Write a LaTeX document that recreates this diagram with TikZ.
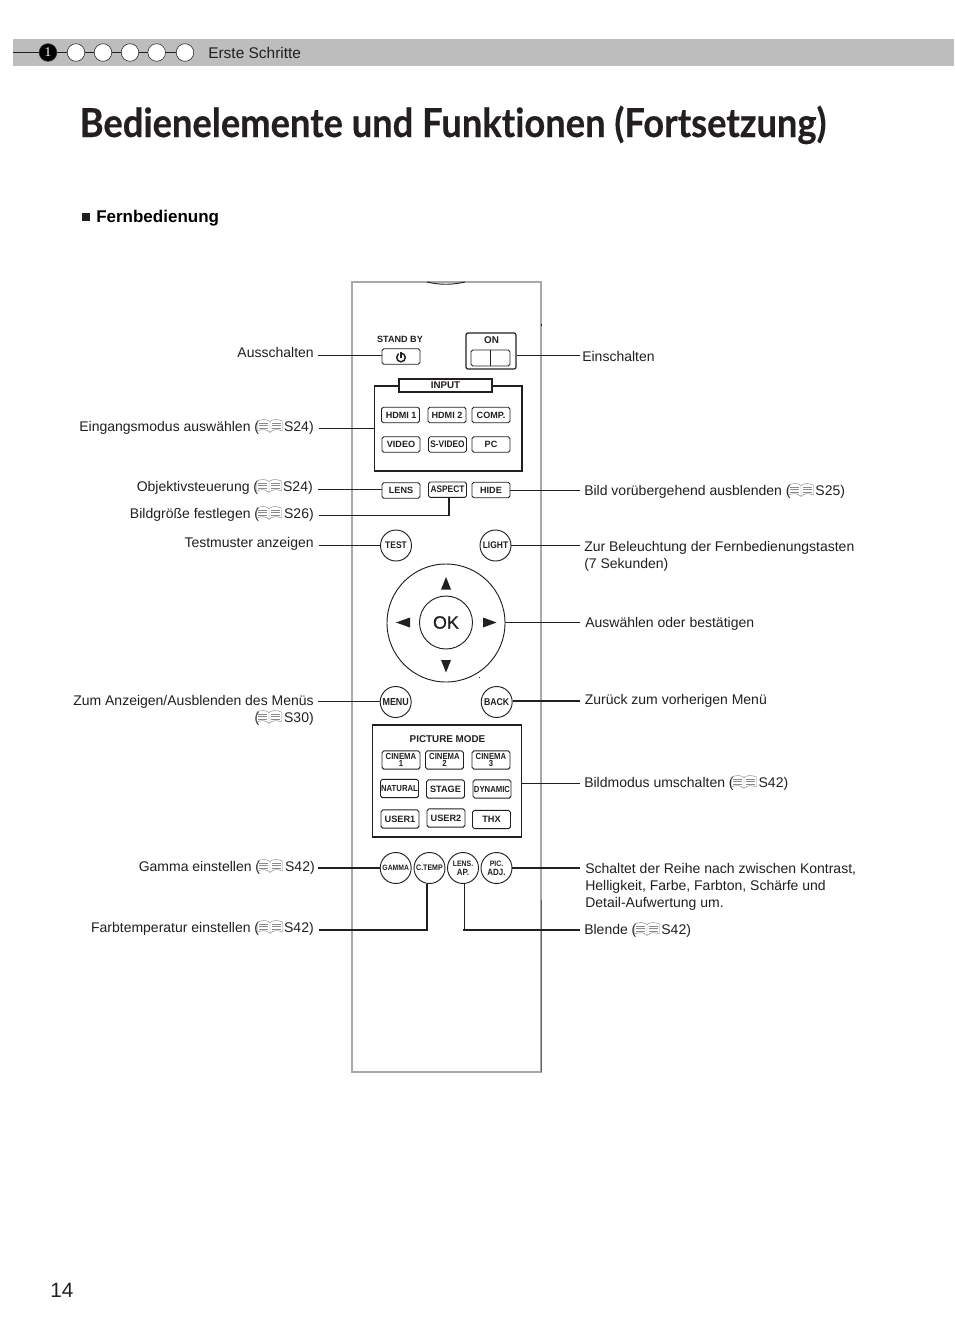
\documentclass[tikz,border=0pt]{standalone}
\usepackage{fontspec}
\setmainfont{Liberation Sans}
\newfontfamily\titlefont[FakeStretch=0.907,FakeBold=0.35,Ligatures=CommonOff]{Lato}
\newfontfamily\narfont[FakeStretch=0.88]{Liberation Sans}
\newfontfamily\okfont[FakeBold=0.6]{Liberation Sans}
\newfontfamily\numfont{Liberation Serif}
\definecolor{ink}{HTML}{231F20}
\definecolor{barcol}{HTML}{BDBDBD}
\definecolor{shell}{HTML}{A8A8A8}
\definecolor{bookcol}{HTML}{8A8A8A}
\tikzset{
  lbl/.style={anchor=base east,inner sep=0pt,text=ink,font=\fontsize{10.5}{12.75}\selectfont,align=right},
  rlbl/.style={anchor=base west,inner sep=0pt,text=ink,font=\fontsize{10.5}{12.75}\selectfont,align=left},
  btn/.style={draw=ink,line width=0.7pt,rounded corners=1.3pt,fill=white,minimum width=28.5pt,minimum height=11.6pt,inner sep=0pt,text=ink,font=\fontsize{6.8}{6.8}\selectfont\bfseries},
  nbtn/.style={btn,font=\fontsize{7.1}{6.8}\selectfont\narfont\bfseries},
  tallbtn/.style={btn,minimum height=13.6pt,align=center,font=\fontsize{6.6}{5.6}\selectfont\narfont\bfseries},
  widebtn/.style={tallbtn,font=\fontsize{6.9}{6.9}\selectfont\bfseries},
  rbtn/.style={draw=ink,line width=0.7pt,circle,fill=white,minimum size=23.25pt,inner sep=0pt,align=center,text=ink,font=\fontsize{6.8}{6.8}\selectfont\narfont\bfseries},
  frame/.style={draw=ink,line width=1pt,fill=none},
  thin/.style={draw=ink,line width=0.65pt},
  thick/.style={draw=ink,line width=1.3pt},
  dot/.style={circle,draw=ink,line width=0.4pt,fill=white,minimum size=13.2pt,inner sep=0pt},
  bookicon/.pic={
    \draw[bookcol,line width=0.35pt,line join=round]
      (-12.5,-5) .. controls (-8,-7) and (-3,-7) .. (0,-4.5) .. controls (3,-7) and (8,-7) .. (12.5,-5)
      -- (12.5,5) .. controls (8,3) and (3,3) .. (0,6.5) .. controls (-3,3) and (-8,3) .. (-12.5,5) -- cycle
      (0,-4.5) -- (0,6.5);
    \draw[bookcol,line width=0.3pt]
      (-11,-3) -- (-2,-3) (-11,-0.5) -- (-2,-0.5) (-11,2) -- (-2,2)
      (2,-3) -- (11,-3) (2,-0.5) -- (11,-0.5) (2,2) -- (11,2);
  }
}
\newcommand{\gapbook}{\hspace*{18.75pt}}
\begin{document}
\begin{tikzpicture}[x=0.75pt,y=-0.75pt]
\useasboundingbox (0,0) rectangle (954,1339);
\fill[white] (0,0) rectangle (954,1339);
% header
\fill[barcol] (13,39) rectangle (954,66);
\coordinate (bar0) at (13,52.5);
\node[dot,fill=black,text=white,font=\fontsize{10}{10}\selectfont\numfont] (d1) at (48,52.5) {1};
\node[dot] (d2) at (76,52.5) {};
\node[dot] (d3) at (103,52.5) {};
\node[dot] (d4) at (130,52.5) {};
\node[dot] (d5) at (156.7,52.5) {};
\node[dot] (d6) at (185,52.5) {};
\draw[thin] (bar0) -- (d1) (d1) -- (d2) (d2) -- (d3) (d3) -- (d4) (d4) -- (d5) (d5) -- (d6);
\node[anchor=base west,inner sep=0pt,text=ink,font=\fontsize{11.6}{14}\selectfont] (head) at (208,58) {Erste Schritte};
\node[anchor=base west,inner sep=0pt,text=ink,font=\fontsize{30}{36}\selectfont\titlefont\bfseries] (title) at (79.5,137) {Bedienelemente und Funktionen (Fortsetzung)};
\node[anchor=base west,inner sep=0pt,text=black,font=\fontsize{12.75}{15}\selectfont\bfseries] (sect) at (96,222) {Fernbedienung};
\fill[ink] (81.5,212.5) rectangle (90,221);
\node[anchor=base west,inner sep=0pt,text=ink,font=\fontsize{15.5}{18}\selectfont] (pg) at (50,1297) {14};
% remote
\draw[shell,line width=1pt] (352,282) rectangle (541,1072);
\draw[ink,line width=0.7pt] (427,282) .. controls (440,285) and (452,285) .. (465,282);
\draw[ink!70,line width=0.3pt] (541.4,900) -- (541.4,1072);
\fill[ink] (540.6,324) rectangle (541.6,326);
\fill[ink] (479,676.6) rectangle (480,677.4);
% top
\node[anchor=center,inner sep=0pt,text=ink,font=\fontsize{6.8}{7}\selectfont\bfseries] (sbtxt) at (400,339) {STAND BY};
\node[btn] (standby) at (401,356.5) {};
\draw[ink,line width=1.1pt] (standby.center) ++(0,1) circle[radius=4.3];
\draw[white,line width=2.4pt] (400.8,351.5) -- (400.8,355);
\draw[ink,line width=1.1pt] (400.8,351.5) -- (400.8,357.5);
\node[draw=ink,line width=0.9pt,rounded corners=1.5pt,minimum width=37.5pt,minimum height=27pt,inner sep=0pt] (onbox) at (491,351) {};
\node[anchor=center,inner sep=0pt,text=ink,font=\fontsize{7.4}{8}\selectfont\bfseries] (ontxt) at (491.5,340.5) {ON};
\node[draw=ink,line width=0.7pt,rounded corners=1.3pt,minimum width=29.25pt,minimum height=12pt,inner sep=0pt] (onsw) at (490.5,358) {};
\draw[ink,line width=1.2pt] (onsw.north) -- (onsw.south);
% input
\node[frame,minimum width=110.6pt,minimum height=63.75pt,inner sep=0pt] (inputbox) at (448.2,428.5) {};
\node[draw=ink,line width=0.8pt,fill=white,minimum width=69.75pt,minimum height=9.75pt,inner sep=0pt,text=ink,font=\fontsize{7.3}{7.5}\selectfont\bfseries] (inputlbl) at (445.5,385.5) {INPUT};
\node[btn] (hdmia) at (400.5,415) {\hspace*{1pt}HDMI 1};
\node[btn] (hdmib) at (447,415) {HDMI 2};
\node[btn] (comp) at (491,415) {COMP.};
\node[btn] (video) at (401,444.5) {VIDEO};
\node[nbtn] (svideo) at (447.5,444.5) {S-VIDEO};
\node[btn] (pc) at (491,444.5) {PC};
\node[btn] (lens) at (401,490.5) {LENS};
\node[nbtn] (aspect) at (447.5,489.7) {ASPECT};
\node[btn] (hide) at (491,490) {HIDE};
% round keys
\node[rbtn] (test) at (396,545.5) {\fontsize{7.2}{7}\selectfont TEST};
\node[rbtn] (light) at (495.5,545.5) {\fontsize{7.2}{7}\selectfont LIGHT};
\node[draw=ink,line width=0.7pt,circle,minimum size=88.5pt,inner sep=0pt] (ring) at (446,623) {};
\node[draw=ink,line width=0.7pt,circle,minimum size=39.75pt,inner sep=0pt,text=ink,font=\fontsize{13.5}{15}\selectfont\okfont] (ok) at (446,622.5) {OK};
\fill[ink] (446,577) -- (451,589.5) -- (441,589.5) -- cycle;
\fill[ink] (446,672.5) -- (451,660) -- (441,660) -- cycle;
\fill[ink] (396,622.5) -- (410,617.5) -- (410,627.5) -- cycle;
\fill[ink] (496.5,622.5) -- (483,617.5) -- (483,627.5) -- cycle;
\node[rbtn] (menu) at (395.7,702) {\fontsize{7.6}{7}\selectfont MENU};
\node[rbtn] (back) at (496.7,702) {\fontsize{7.4}{7}\selectfont BACK};
% picture mode
\node[frame,minimum width=111.75pt,minimum height=84pt,inner sep=0pt] (pmbox) at (447,781) {};
\node[anchor=center,inner sep=0pt,text=ink,font=\fontsize{7.4}{8}\selectfont\bfseries] (pmtxt) at (447.5,739) {PICTURE MODE};
\node[tallbtn] (cina) at (401,760) {CINEMA\\1};
\node[tallbtn] (cinb) at (444.5,760) {CINEMA\\2};
\node[tallbtn] (cinc) at (491,760) {CINEMA\\3};
\node[tallbtn] (natural) at (399.5,788.5) {NATURAL};
\node[widebtn] (stage) at (445.5,789) {STAGE};
\node[tallbtn] (dynamic) at (492,789) {DYNAMIC};
\node[widebtn] (usera) at (400,819) {USER1};
\node[widebtn] (userb) at (446,818) {USER2};
\node[widebtn] (thx) at (491.5,819.5) {THX};
\node[rbtn] (gamma) at (395.7,868) {\fontsize{5.8}{6}\selectfont GAMMA};
\node[rbtn] (ctemp) at (429.5,868) {\fontsize{6}{6}\selectfont C.TEMP};
\node[rbtn] (lensap) at (463,868) {\fontsize{5.9}{6.6}\selectfont LENS.\\AP.};
\node[rbtn] (picadj) at (496.5,868) {\fontsize{5.9}{6.6}\selectfont PIC.\\ADJ.};
% left labels
\node[lbl] (t1) at (314,357) {Ausschalten};
\node[lbl] (t2) at (314,431) {Eingangsmodus auswählen (\gapbook S24)};
\pic at (270,426) {bookicon};
\node[lbl] (t3) at (313,491) {Objektivsteuerung (\gapbook S24)};
\pic at (269,486) {bookicon};
\node[lbl] (t4) at (314,518) {Bildgröße festlegen (\gapbook S26)};
\pic at (269,513) {bookicon};
\node[lbl] (t5) at (314,547) {Testmuster anzeigen};
\node[lbl] (t6) at (314,705) {Zum Anzeigen/Ausblenden des Menüs};
\node[lbl] (t6b) at (314,722) {(\gapbook S30)};
\pic at (269,717) {bookicon};
\node[lbl] (t7) at (315,871) {Gamma einstellen (\gapbook S42)};
\pic at (270,866) {bookicon};
\node[lbl] (t8) at (314,932) {Farbtemperatur einstellen (\gapbook S42)};
\pic at (270,927) {bookicon};
% right labels
\node[rlbl] (r1) at (582,361) {Einschalten};
\node[rlbl] (r2) at (584,495) {Bild vorübergehend ausblenden (\gapbook S25)};
\pic at (801,490) {bookicon};
\node[rlbl] (r3) at (584,551) {Zur Beleuchtung der Fernbedienungstasten};
\node[rlbl] (r3b) at (584,568) {(7 Sekunden)};
\node[rlbl] (r4) at (585,627) {Auswählen oder bestätigen};
\node[rlbl] (r5) at (584.5,704) {Zurück zum vorherigen Menü};
\node[rlbl] (r6) at (584,787) {Bildmodus umschalten (\gapbook S42)};
\pic at (744,782) {bookicon};
\node[rlbl] (r7) at (585,873) {Schaltet der Reihe nach zwischen Kontrast,};
\node[rlbl] (r7b) at (585,890) {Helligkeit, Farbe, Farbton, Schärfe und};
\node[rlbl] (r7c) at (585,907) {Detail-Aufwertung um.};
\node[rlbl] (r8) at (584,934) {Blende (\gapbook S42)};
\pic at (647,929) {bookicon};
% connector ends
\coordinate (a1) at (318,355);
\coordinate (a2) at (319,428);
\coordinate (a3) at (318,489.5);
\coordinate (a4) at (319,515.5);
\coordinate (a5) at (319,545.5);
\coordinate (a6) at (318,701.5);
\coordinate (a7) at (318,868);
\coordinate (a8) at (319,930);
\coordinate (b1) at (580,355);
\coordinate (b2) at (580,490);
\coordinate (b3) at (580,545);
\coordinate (b4) at (580,622.5);
\coordinate (b5) at (580,701);
\coordinate (b6) at (580,783);
\coordinate (b7) at (580,868);
\coordinate (b8) at (580,930);
% connectors
\draw[thin] (a1) -- (a1 -| standby.west);
\draw[thin] (a2) -- (a2 -| inputbox.west);
\draw[thick] (a3) -- (a3 -| lens.west);
\draw[thick] (a4) -| ([xshift=1pt]aspect.south);
\draw[thin] (a5) -- (a5 -| test.west);
\draw[thin] (a6) -- (a6 -| menu.west);
\draw[thick] (a7) -- (a7 -| gamma.west);
\draw[thick] (a8) -| ([xshift=-1.9pt]ctemp.south);
\draw[thin] (b1) -- (b1 -| onbox.east);
\draw[thin] (b2) -- (b2 -| hide.east);
\draw[thin] (b3) -- (b3 -| light.east);
\draw[thick] (b4) -- (b4 -| ring.east);
\draw[thick] (b5) -- (b5 -| back.east);
\draw[thin] (b6) -- (b6 -| pmbox.east);
\draw[thick] (b7) -- (b7 -| picadj.east);
\draw[thin] ([xshift=1pt]lensap.south) |- (b8);
\draw[thick] (b8) -- (b8 -| lensap.south);
\end{tikzpicture}
\end{document}
